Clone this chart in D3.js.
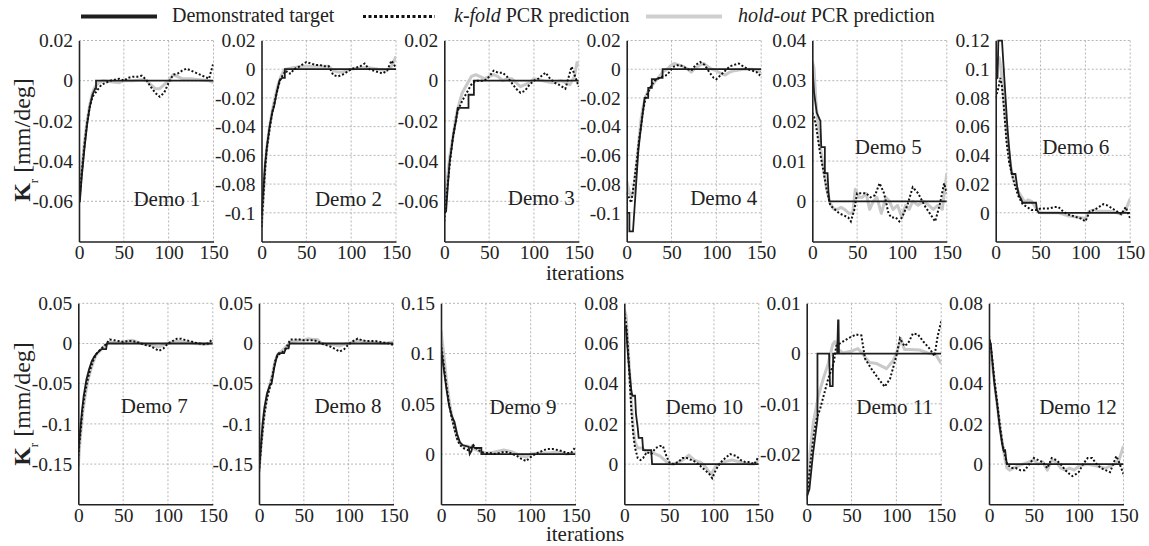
<!DOCTYPE html>
<html>
<head>
<meta charset="utf-8">
<script src="https://cdn.jsdelivr.net/npm/d3@7"></script>
<style>
  body { margin: 0; background: #fff; }
  text { font-family: "Liberation Serif", "DejaVu Serif", serif; fill: #222; }
</style>
</head>
<body>
<script>
// --- data ---
const demoNames = ["Demo 1","Demo 2","Demo 3","Demo 4","Demo 5","Demo 6",
                   "Demo 7","Demo 8","Demo 9","Demo 10","Demo 11","Demo 12"];
const xTicks = [0, 50, 100, 150];
const xDomain = [0, 150];

const yDomains = [
  [-0.08, 0.02], [-0.12, 0.02], [-0.08, 0.02], [-0.12, 0.02], [-0.01, 0.04], [-0.02, 0.12],
  [-0.2, 0.05], [-0.2, 0.05], [-0.05, 0.15], [-0.02, 0.08], [-0.03, 0.01], [-0.02, 0.08]
];
const yTicks = [
  [0.02, 0, -0.02, -0.04, -0.06],
  [0.02, 0, -0.02, -0.04, -0.06, -0.08, -0.1],
  [0.02, 0, -0.02, -0.04, -0.06],
  [0.02, 0, -0.02, -0.04, -0.06, -0.08, -0.1],
  [0.04, 0.03, 0.02, 0.01, 0],
  [0.12, 0.1, 0.08, 0.06, 0.04, 0.02, 0],
  [0.05, 0, -0.05, -0.1, -0.15],
  [0.05, 0, -0.05, -0.1, -0.15],
  [0.15, 0.1, 0.05, 0],
  [0.08, 0.06, 0.04, 0.02, 0],
  [0.01, 0, -0.01, -0.02],
  [0.08, 0.06, 0.04, 0.02, 0]
];

// Demonstrated target
const targetSeries = [
  [[0,-0.06],[1,-0.06],[3,-0.048],[6,-0.034],[9,-0.022],[12,-0.013],[15,-0.007],[18,-0.004],[19,-0.004],[19,0],[150,0]],
  [[0,-0.102],[2,-0.085],[4,-0.066],[6,-0.054],[9,-0.04],[12,-0.03],[14,-0.026],[17,-0.016],[20,-0.008],[23,-0.006],[26,-0.006],[26,0],[150,0]],
  [[0,-0.066],[2,-0.065],[4,-0.052],[6,-0.04],[8,-0.034],[10,-0.027],[13,-0.02],[15,-0.0135],[27,-0.0135],[27,-0.007],[33,-0.007],[33,0],[150,0]],
  [[0,-0.1],[3,-0.1],[3,-0.113],[7,-0.113],[10,-0.085],[13,-0.056],[16,-0.04],[18,-0.03],[20,-0.02],[24,-0.02],[24,-0.013],[28,-0.013],[28,-0.007],[33,-0.007],[36,-0.006],[40,-0.006],[40,0],[150,0]],
  [[0,0.034],[2,0.027],[5,0.022],[7,0.021],[9,0.02],[10,0.0135],[14,0.0135],[14,0.007],[17,0.007],[18,0.0025],[19,0],[150,0]],
  [[0,0.093],[2,0.094],[3,0.12],[7,0.12],[9,0.1],[11,0.08],[13,0.06],[15,0.045],[17,0.032],[18,0.027],[22,0.027],[24,0.018],[26,0.012],[28,0.01],[30,0.007],[45,0.007],[46,0.002],[48,0],[150,0]],
  [[0,-0.135],[2,-0.11],[4,-0.085],[6,-0.065],[9,-0.045],[12,-0.032],[15,-0.022],[18,-0.016],[21,-0.012],[25,-0.008],[26,-0.007],[31,-0.007],[32,0],[150,0]],
  [[0,-0.16],[2,-0.13],[4,-0.1],[6,-0.08],[9,-0.062],[12,-0.052],[14,-0.05],[17,-0.03],[20,-0.015],[22,-0.012],[28,-0.012],[30,-0.006],[33,-0.006],[34,0],[150,0]],
  [[0,0.106],[3,0.085],[6,0.065],[9,0.048],[12,0.038],[15,0.032],[18,0.02],[21,0.012],[24,0.009],[28,0.008],[31,0.007],[32,0],[34,0.003],[35,0.008],[38,0.006],[45,0.006],[45,0],[150,0]],
  [[0,0.068],[2,0.068],[4,0.055],[6,0.045],[8,0.036],[9,0.034],[12,0.034],[13,0.025],[15,0.018],[16,0.013],[20,0.013],[21,0.007],[30,0.007],[31,0],[150,0]],
  [[0,-0.0285],[3,-0.027],[7,-0.02],[12,-0.013],[12,0],[25,0],[26,-0.0065],[29,-0.0065],[29.5,0],[34,0],[35,0.0066],[35.5,0.0066],[36,0],[150,0]],
  [[0,0.062],[2,0.06],[4,0.05],[6,0.04],[9,0.03],[12,0.018],[14,0.012],[16,0.007],[18,0.007],[19,0.003],[20,0],[150,0]]
];

// k-fold PCR prediction
const kfoldSeries = [
  [[0,-0.061],[3,-0.046],[6,-0.032],[9,-0.021],[12,-0.013],[15,-0.008],[20,-0.005],[25,-0.002],[30,-0.001],[35,0],[40,0.0005],[45,0.001],[50,0],[55,0.0015],[60,0.002],[65,0.002],[70,0.0025],[75,0.0005],[80,-0.003],[85,-0.006],[90,-0.008],[95,-0.006],[100,-0.001],[105,0.003],[110,0.0035],[115,0.005],[120,0.006],[125,0.005],[130,0.004],[135,0.003],[140,0.002],[145,0.001],[150,0.009]],
  [[0,-0.11],[2,-0.09],[4,-0.07],[6,-0.055],[9,-0.042],[12,-0.03],[15,-0.022],[18,-0.014],[21,-0.007],[24,-0.004],[27,-0.001],[30,-0.003],[33,-0.003],[36,0],[40,0.001],[45,0.003],[50,0.005],[55,0.004],[60,0.003],[65,0.003],[70,0.002],[75,0.002],[80,-0.004],[85,-0.005],[90,-0.004],[95,-0.002],[100,0],[105,0.001],[110,0.002],[115,0.004],[120,0],[125,-0.001],[130,-0.002],[135,-0.003],[140,-0.001],[145,0.006],[150,0.001]],
  [[0,-0.07],[3,-0.055],[6,-0.042],[9,-0.03],[12,-0.022],[15,-0.015],[20,-0.01],[25,-0.006],[30,-0.002],[35,0],[40,0],[45,0],[50,0.002],[55,0.005],[60,0.004],[65,0.004],[70,0.002],[75,-0.001],[80,-0.004],[85,-0.006],[90,-0.005],[95,-0.002],[100,0],[105,0.001],[110,0.003],[113,0.004],[118,0.001],[123,-0.001],[128,-0.002],[135,-0.004],[142,0.007],[146,0.002],[150,-0.003]],
  [[0,-0.086],[3,-0.09],[5,-0.093],[8,-0.08],[10,-0.07],[12,-0.06],[14,-0.048],[16,-0.04],[18,-0.03],[21,-0.02],[24,-0.016],[27,-0.012],[30,-0.009],[33,-0.007],[37,-0.006],[40,-0.005],[45,-0.004],[50,0],[53,0.002],[58,0.003],[63,0.002],[68,0],[72,-0.001],[77,0.003],[82,0.005],[87,0.003],[92,-0.002],[97,-0.006],[100,-0.007],[105,-0.004],[110,-0.001],[115,0.002],[120,0.003],[125,0.004],[130,0.002],[135,0],[140,-0.001],[145,-0.002],[148,-0.004],[150,-0.002]],
  [[0,0.022],[2,0.021],[4,0.019],[8,0.013],[12,0.008],[16,0.003],[20,-0.001],[25,-0.002],[30,-0.003],[35,-0.0035],[40,-0.004],[43,-0.005],[47,-0.002],[50,0.002],[55,0.002],[60,0.002],[65,0.001],[70,0.0015],[75,0.0045],[80,0.002],[85,-0.003],[88,-0.004],[93,-0.004],[97,-0.005],[100,-0.004],[106,-0.001],[112,0.0035],[118,0.002],[125,-0.001],[131,-0.003],[137,-0.005],[142,-0.001],[147,0.0045],[150,0.002]],
  [[0,0.08],[3,0.087],[5,0.094],[7,0.088],[9,0.075],[12,0.05],[15,0.035],[18,0.027],[21,0.02],[25,0.012],[30,0.006],[35,0.004],[40,0.002],[45,0.002],[50,0.003],[55,0.003],[60,0.003],[65,0.004],[70,0.004],[75,0.001],[80,-0.001],[85,-0.002],[90,-0.003],[95,-0.004],[100,-0.006],[105,0.001],[110,0.002],[115,0.004],[120,0.006],[125,0.005],[130,0.003],[135,0.001],[140,-0.001],[145,0.004],[150,-0.004]],
  [[0,-0.14],[2,-0.115],[5,-0.08],[8,-0.058],[11,-0.042],[14,-0.03],[17,-0.02],[20,-0.013],[25,-0.007],[30,-0.002],[35,0.005],[40,0.004],[45,0.003],[50,0.002],[55,0.003],[60,0.003],[65,0.002],[70,0],[75,-0.002],[80,-0.003],[85,-0.006],[90,-0.009],[95,-0.006],[100,0],[105,0.003],[110,0.006],[115,0.006],[120,0.004],[125,0.003],[130,0.001],[135,0],[140,-0.001],[145,0],[150,0.006]],
  [[0,-0.16],[3,-0.12],[6,-0.088],[9,-0.068],[12,-0.055],[15,-0.04],[18,-0.022],[21,-0.014],[25,-0.012],[30,-0.006],[35,0.005],[40,0.005],[45,0.005],[50,0.004],[55,0.004],[60,0.004],[65,0.003],[70,0],[75,-0.002],[80,-0.004],[85,-0.007],[90,-0.01],[95,-0.007],[100,-0.001],[105,0.003],[110,0.006],[115,0.004],[120,0.003],[130,0.003],[140,0.001],[145,0],[150,-0.002]],
  [[0,0.11],[3,0.09],[6,0.068],[9,0.05],[12,0.036],[15,0.025],[18,0.015],[21,0.009],[25,0.006],[30,0.004],[33,0.006],[36,0.009],[40,0.005],[45,0.002],[50,0.001],[55,0.001],[60,0],[65,0.001],[70,0.002],[75,0.002],[80,0],[85,-0.002],[90,-0.005],[95,-0.007],[100,-0.003],[105,0],[110,0.002],[118,0.005],[125,0.005],[130,0.004],[135,0.003],[140,0.001],[145,0.001],[150,0.007]],
  [[0,0.075],[2,0.07],[4,0.058],[6,0.042],[8,0.026],[10,0.015],[12,0.008],[15,0.003],[18,0.002],[21,0.003],[25,0.006],[30,0.005],[35,0.008],[40,0.009],[43,0.009],[47,0.004],[50,0.001],[55,0],[60,0.001],[65,0.003],[70,0.003],[75,0.002],[80,0.001],[85,-0.001],[90,-0.003],[95,-0.005],[98,-0.007],[102,-0.003],[106,0],[110,0.002],[118,0.005],[125,0.004],[130,0.002],[135,0.001],[140,0.001],[145,0],[150,0.004]],
  [[0,-0.029],[4,-0.022],[8,-0.016],[11,-0.013],[15,-0.011],[18,-0.009],[24,-0.005],[30,-0.002],[33,0.0015],[37,0.002],[46,0.003],[55,0.0038],[61,0.0036],[65,-0.001],[72,-0.003],[80,-0.005],[87,-0.0066],[93,-0.005],[100,-0.0005],[104,0.003],[109,0.0015],[113,0.002],[118.5,0.004],[124,0.0038],[130,0.0024],[137,0.001],[142.5,-0.0005],[146,0.0034],[150,0.0064]],
  [[0,0.064],[3,0.055],[6,0.042],[9,0.031],[12,0.02],[15,0.01],[18,0.004],[20,0],[25,-0.002],[30,-0.002],[35,-0.003],[40,-0.003],[45,0],[50,0.003],[55,0.002],[60,0.001],[65,-0.002],[70,0.003],[75,0.002],[80,0],[85,-0.003],[90,-0.005],[93,-0.006],[97,-0.005],[100,-0.004],[105,0],[110,0.003],[115,0.003],[120,0],[125,-0.002],[130,-0.003],[135,-0.004],[142,0.004],[145,0.001],[150,-0.005]]
];

// hold-out PCR prediction
const holdoutSeries = [
  [[0,-0.06],[3,-0.045],[6,-0.031],[9,-0.02],[12,-0.012],[15,-0.006],[18,-0.003],[22,-0.001],[27,0],[35,-0.0005],[45,-0.001],[50,0],[60,0],[70,0.0005],[75,0],[80,-0.002],[85,-0.004],[90,-0.004],[95,-0.002],[100,0],[105,0.003],[110,0.002],[115,0.001],[125,0.001],[135,0.0005],[145,0],[150,-0.001]],
  [[0,-0.11],[2,-0.088],[4,-0.068],[6,-0.054],[9,-0.04],[12,-0.029],[15,-0.02],[18,-0.012],[21,-0.006],[24,-0.002],[27,0],[35,0.001],[45,0.002],[55,0.002],[65,0.002],[75,0.002],[80,-0.001],[85,-0.002],[90,-0.002],[100,0],[110,0.001],[120,0.001],[130,0],[140,-0.001],[145,0.002],[150,0.009]],
  [[0,-0.063],[3,-0.05],[6,-0.038],[10,-0.027],[13,-0.018],[15,-0.014],[20,-0.006],[25,-0.002],[30,0.002],[35,0.003],[40,0.002],[45,0.001],[50,0.002],[55,0.003],[60,0.002],[65,0],[70,0.001],[75,0.001],[80,-0.001],[85,-0.003],[90,-0.002],[95,-0.001],[100,0.001],[110,0],[120,-0.001],[130,0],[140,-0.002],[145,0.002],[148,0.009],[150,0.007]],
  [[0,-0.078],[3,-0.086],[5,-0.089],[7,-0.087],[9,-0.078],[12,-0.06],[14,-0.047],[16,-0.035],[18,-0.027],[21,-0.019],[25,-0.014],[30,-0.01],[35,-0.006],[40,-0.002],[45,0],[50,0.003],[53,0.004],[58,0.003],[63,0.002],[68,0],[72,-0.002],[77,0.001],[82,0.003],[86,0.004],[90,0.002],[95,0],[100,-0.001],[105,-0.003],[110,-0.004],[115,-0.002],[120,-0.001],[130,0],[140,0],[145,-0.001],[150,-0.002]],
  [[0,0.035],[2,0.033],[4,0.025],[8,0.015],[12,0.009],[16,0.003],[20,-0.0005],[24,-0.002],[28,-0.002],[32,-0.0015],[36,-0.002],[41,-0.003],[45,-0.003],[48,0.003],[52,0.001],[56,0.001],[60,0.002],[64,-0.002],[68,0],[72,0.001],[77,-0.003],[82,0.001],[86,0],[90,-0.002],[95,-0.001],[100,-0.004],[104,-0.001],[108,-0.002],[112,0],[118,-0.001],[124,0],[130,-0.001],[135,-0.002],[140,-0.001],[145,-0.002],[150,0.007]],
  [[0,0.1],[2,0.105],[4,0.108],[6,0.1],[8,0.085],[10,0.07],[13,0.05],[16,0.035],[19,0.025],[22,0.02],[25,0.015],[30,0.01],[33,0.007],[36,0.009],[40,0.008],[44,0.004],[48,0.001],[52,0],[60,0],[70,0],[80,-0.002],[90,-0.003],[100,-0.004],[104,0.001],[110,0.002],[115,0.001],[125,0.001],[135,0],[140,-0.001],[145,0.002],[150,0.01]],
  [[0,-0.153],[2,-0.12],[5,-0.085],[8,-0.062],[11,-0.045],[14,-0.032],[17,-0.022],[20,-0.014],[25,-0.008],[30,-0.002],[35,0.002],[40,0.001],[45,0.001],[50,0.002],[55,0.003],[60,0.004],[65,0.002],[70,0],[75,-0.001],[80,-0.002],[85,-0.003],[90,-0.004],[95,-0.002],[100,0],[105,0.002],[110,0.003],[120,0.002],[130,0],[140,-0.001],[150,0]],
  [[0,-0.16],[3,-0.118],[6,-0.085],[9,-0.065],[12,-0.052],[15,-0.038],[18,-0.022],[21,-0.013],[25,-0.01],[30,-0.004],[35,0.002],[40,0.003],[45,0.004],[50,0.004],[55,0.006],[60,0.005],[65,0.005],[70,0],[75,-0.001],[80,-0.001],[85,-0.002],[90,-0.003],[95,-0.001],[100,0],[105,0.002],[110,0.004],[120,0.002],[130,0.001],[140,0],[150,0.002]],
  [[0,0.123],[3,0.1],[6,0.074],[9,0.054],[12,0.038],[15,0.026],[18,0.016],[21,0.011],[25,0.008],[30,0.008],[35,0.006],[40,0.004],[45,0.002],[50,0.001],[55,0.001],[60,0.002],[65,0.003],[70,0.004],[75,0.003],[80,0.002],[85,0],[90,-0.002],[95,-0.003],[100,0],[110,0.001],[120,0.001],[130,0.002],[140,0],[150,0.001]],
  [[0,0.077],[2,0.074],[4,0.06],[6,0.045],[8,0.03],[10,0.018],[12,0.011],[15,0.008],[20,0.008],[25,0.006],[30,0.006],[35,0.005],[40,0.004],[45,0.002],[50,0],[55,0],[60,0.001],[65,0.002],[72,0.0045],[78,0.002],[85,0.001],[90,-0.001],[93,-0.003],[97,-0.005],[102,-0.001],[110,0.001],[120,0.002],[130,0.001],[140,0],[145,0],[148,0.001],[150,0.003]],
  [[0,-0.0285],[3.7,-0.0197],[7.4,-0.0137],[13,-0.0085],[18.5,-0.005],[24,-0.002],[29,0.0018],[31.5,0.0024],[35,0.0008],[40.7,0.0001],[50,0.0005],[57,0.001],[63,-0.0002],[70,-0.0018],[78,-0.002],[89,-0.003],[96,-0.0015],[100,0],[105,0.003],[109,0.0008],[115,0.0008],[126,0.0007],[137,0],[144,-0.0002],[150,-0.002]],
  [[0,0.058],[3,0.052],[6,0.041],[9,0.03],[12,0.019],[15,0.01],[18,0.002],[20,-0.002],[23,-0.003],[27,-0.002],[32,-0.001],[38,0],[44,0.001],[50,0.002],[55,0],[60,0.001],[65,-0.003],[70,0.002],[75,0.001],[80,-0.002],[85,-0.003],[90,-0.002],[95,-0.003],[100,-0.001],[110,0],[120,-0.001],[130,-0.002],[140,0],[145,0.002],[150,0.009]]
];

// --- layout ---
const W = 1149, H = 546;
const rowLefts = [[79, 261.5, 444.3, 626.7, 812.3, 995.7], [78.3, 259, 441, 624.3, 806.7, 989]];
const rowTops = [40.5, 303.3];
const pw = 134.5, ph = 201;
// "Demo N" label: centre x from panel left, baseline from panel top
const labelPos = [[88,165],[87,165],[97,164],[97,164],[76,113],[80,113],
                  [76,110],[89,110],[82,111],[80,111],[88,111],[89,111]];

const svg = d3.select("body").append("svg")
    .attr("width", W)
    .attr("height", H);

const fmt = v => v === 0 ? "0" : String(+v.toFixed(3));

demoNames.forEach((name, i) => {
    const row = Math.floor(i / 6), col = i % 6;
    const left = rowLefts[row][col], top = rowTops[row];

    const x = d3.scaleLinear().domain(xDomain).range([0, pw]);
    const y = d3.scaleLinear().domain(yDomains[i]).range([ph, 0]);

    const g = svg.append("g").attr("transform", `translate(${left},${top})`);

    // grid
    g.append("g").selectAll("line.gy")
        .data(yTicks[i]).enter().append("line")
        .attr("x1", 0).attr("x2", pw)
        .attr("y1", d => y(d)).attr("y2", d => y(d))
        .attr("stroke", "#b5b5b5").attr("stroke-width", 1)
        .attr("stroke-dasharray", "2,2");
    g.append("g").selectAll("line.gx")
        .data(xTicks.slice(1)).enter().append("line")
        .attr("x1", d => x(d)).attr("x2", d => x(d))
        .attr("y1", 0).attr("y2", ph)
        .attr("stroke", "#b5b5b5").attr("stroke-width", 1)
        .attr("stroke-dasharray", "2,2");

    // clip
    svg.append("clipPath").attr("id", "clip" + i)
        .append("rect").attr("x", 0).attr("y", -1).attr("width", pw).attr("height", ph + 2);

    const line = d3.line().x(d => x(d[0])).y(d => y(d[1]));
    const plot = g.append("g").attr("clip-path", `url(#clip${i})`);

    plot.append("path").datum(holdoutSeries[i])
        .attr("d", line).attr("fill", "none")
        .attr("stroke", "#c9c9c9").attr("stroke-width", 3)
        .attr("stroke-linejoin", "round");
    plot.append("path").datum(targetSeries[i])
        .attr("d", line).attr("fill", "none")
        .attr("stroke", "#1e1e1e").attr("stroke-width", 1.8);
    plot.append("path").datum(kfoldSeries[i])
        .attr("d", line).attr("fill", "none")
        .attr("stroke", "#111").attr("stroke-width", 2)
        .attr("stroke-dasharray", "2,2");

    // axes
    const ax = g.append("g").attr("transform", `translate(0,${ph})`)
        .call(d3.axisBottom(x).tickValues(xTicks).tickSize(0).tickPadding(3).tickFormat(d3.format("d")));
    const ay = g.append("g")
        .call(d3.axisLeft(y).tickValues(yTicks[i]).tickSize(0).tickPadding(6).tickFormat(fmt));
    [ax, ay].forEach(a => {
        a.select(".domain").attr("stroke", "#222").attr("stroke-width", 1.6);
        a.selectAll("text")
            .style("font-family", "'Liberation Serif', serif")
            .style("font-size", "19.5px")
            .attr("fill", "#222");
    });
    ax.selectAll("text").attr("dy", "0.75em");

    g.append("text")
        .attr("x", labelPos[i][0])
        .attr("y", labelPos[i][1])
        .attr("text-anchor", "middle")
        .style("font-size", "21px")
        .text(name);
});

// y axis titles
[140, 404].forEach(cy => {
    const t = svg.append("text")
        .attr("transform", `translate(30,${cy}) rotate(-90)`)
        .attr("text-anchor", "middle")
        .style("font-size", "24px");
    t.append("tspan").attr("font-weight", "bold").text("K");
    t.append("tspan").attr("baseline-shift", "sub").style("font-size", "13px").text("r");
    t.append("tspan").text(" [mm/deg]");
});

// x axis titles
[280, 541].forEach(by => {
    svg.append("text")
        .attr("x", 585).attr("y", by)
        .attr("text-anchor", "middle")
        .style("font-size", "21px")
        .text("iterations");
});

// legend
const legend = svg.append("g");
legend.append("line").attr("x1", 81).attr("x2", 157).attr("y1", 16.5).attr("y2", 16.5)
    .attr("stroke", "#1e1e1e").attr("stroke-width", 4);
legend.append("text").attr("x", 172).attr("y", 22).style("font-size", "20px")
    .text("Demonstrated target");
legend.append("line").attr("x1", 363).attr("x2", 435).attr("y1", 16.5).attr("y2", 16.5)
    .attr("stroke", "#111").attr("stroke-width", 3).attr("stroke-dasharray", "3,2.5");
const t2 = legend.append("text").attr("x", 454).attr("y", 22).style("font-size", "20px");
t2.append("tspan").attr("font-style", "italic").text("k-fold");
t2.append("tspan").text(" PCR prediction");
legend.append("line").attr("x1", 646).attr("x2", 722).attr("y1", 16.5).attr("y2", 16.5)
    .attr("stroke", "#cfcfcf").attr("stroke-width", 4);
const t3 = legend.append("text").attr("x", 738).attr("y", 22).style("font-size", "20px");
t3.append("tspan").attr("font-style", "italic").text("hold-out");
t3.append("tspan").text(" PCR prediction");
</script>
</body>
</html>
